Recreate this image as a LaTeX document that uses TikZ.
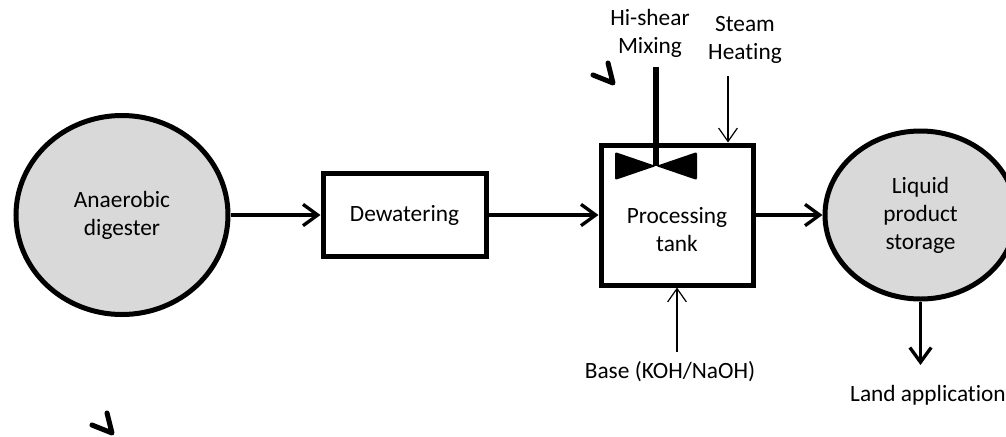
\documentclass[tikz,border=0pt]{standalone}
\usepackage{xcolor}
\usepackage{fontspec}
\setmainfont{Carlito}[Ligatures=NoCommon]
\usepackage{tikz}
\usetikzlibrary{shapes,arrows.meta,positioning,calc}

\definecolor{vesselgray}{HTML}{D9D9D9}

\begin{document}
\begin{tikzpicture}[
    x=0.75pt, y=-0.75pt,
    font=\fontsize{17.5}{21}\selectfont,
    vessel/.style={ellipse, draw, line width=3.75pt, fill=vesselgray, align=center, inner sep=0pt},
    box/.style={rectangle, draw, line width=3.75pt, align=center, inner sep=0pt},
    lbl/.style={align=center, inner sep=0pt},
    flow/.style={-{Straight Barb[length=11pt, width=16pt]}, line width=2.5pt},
    feed/.style={-{Straight Barb[length=10pt, width=14pt]}, line width=0.9pt},
    tick/.style={line width=3.75pt, line cap=round, line join=round}
]
\useasboundingbox (0,0) rectangle (1006,436);

% Main line
\node[vessel, minimum width=159pt, minimum height=149.25pt] (digester) at (122,215) {Anaerobic\\digester};
\node[box, right=67.5pt of digester, minimum width=122.25pt, minimum height=62.25pt] (dewater) {Dewatering};
\node[box, right=82.5pt of dewater, minimum width=114pt, minimum height=105pt] (tank) {};
\node[lbl] (tanktext) at ([yshift=-10.9pt]tank.center) {Processing\\tank};
\node[vessel, right=50.25pt of tank, minimum width=143.25pt, minimum height=126pt] (storage) {Liquid\\product\\storage};

% Mixer
\coordinate (mixtop) at (656,67);
\coordinate (mixer) at (656,166);
\draw[line width=4.5pt] (mixtop) -- (mixer);
\fill[rounded corners=1.5pt] (mixer) -- ++(-41,-14) -- ++(0,28) -- cycle;
\fill[rounded corners=1.5pt] (mixer) -- ++(41,-14) -- ++(0,28) -- cycle;
\node[lbl] (mixtext) at (650,33) {Hi-shear\\Mixing};

% Feeds
\node[lbl] (steamtext) at (745,40) {Steam\\Heating};
\coordinate (steamin) at (728,76);
\node[lbl] (basetext) at (670,372) {Base (KOH/NaOH)};
\coordinate (basein) at (677,352);
\node[lbl] (landtext) at (928,395) {Land application};
\coordinate (landin) at (storage.south |- 0,365);

% Connections
\draw[flow] (digester.east) -- (dewater.west);
\draw[flow] (dewater.east) -- (tank.west |- dewater.east);
\draw[flow] (tank.east) -- (tank.east -| storage.west);
\draw[flow] (storage.south) -- (landin);
\draw[feed] (steamin) -- (steamin |- tank.north);
\draw[feed] (basein) -- (basein |- tank.south);

% Stray ticks
\draw[tick] (593,75) -- (613,83) -- (608,63);
\draw[tick] (92,425) -- (112,433) -- (107,413);

\end{tikzpicture}
\end{document}
